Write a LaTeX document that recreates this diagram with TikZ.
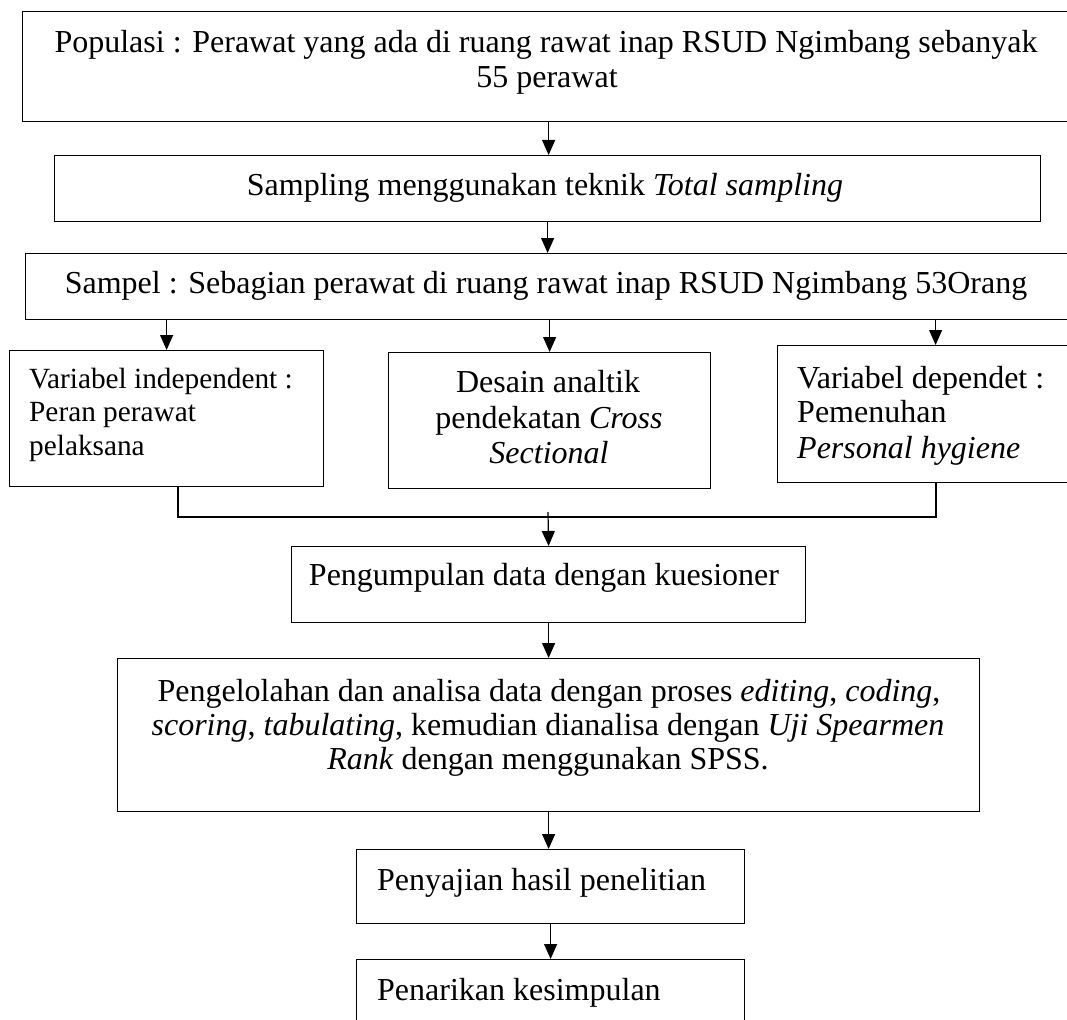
\documentclass[tikz,border=0pt]{standalone}
\usepackage{fontspec}
\setmainfont{Liberation Serif}
\usetikzlibrary{arrows.meta}
\begin{document}
\begin{tikzpicture}[x=1pt,y=-1pt,
  box/.style={draw, line width=1.2pt, rectangle, inner sep=0pt, anchor=north west},
  txt/.style={inner sep=0pt, anchor=base, font=\fontsize{32}{35}\selectfont},
  txtl/.style={txt, anchor=base west},
  txts/.style={txtl, font=\fontsize{29.3}{33}\selectfont},
  arr/.style={line width=1.2pt, -{Triangle[length=15pt,width=13pt]}},
  ln/.style={line width=1.2pt}]
\useasboundingbox (0,0) rectangle (1067,1019);
% boxes
\node[box, minimum width=1052pt, minimum height=110pt] (pop) at (22,11) {};
\node[box, minimum width=986pt, minimum height=66pt] (samp) at (54,155) {};
\node[box, minimum width=1046pt, minimum height=66pt] (sampel) at (25,253) {};
\node[box, minimum width=314pt, minimum height=136pt] (left) at (9,350) {};
\node[box, minimum width=322pt, minimum height=136pt] (mid) at (388,352) {};
\node[box, minimum width=316pt, minimum height=137pt] (right) at (777,345) {};
\node[box, minimum width=514pt, minimum height=76pt] (kump) at (291,546) {};
\node[box, minimum width=862pt, minimum height=153pt] (olah) at (117,658) {};
\node[box, minimum width=388pt, minimum height=74pt] (saji) at (356,849) {};
\node[box, minimum width=388pt, minimum height=100pt] (tarik) at (356,959) {};
% texts
\node[txt] (t1a) at (546,53) {Populasi : Perawat yang ada di ruang rawat inap RSUD Ngimbang sebanyak};
\node[txt] (t1b) at (547,88) {55 perawat};
\node[txt] (t2) at (545,195) {Sampling menggunakan teknik \textit{Total sampling}};
\node[txt] (t3) at (546,293) {Sampel : Sebagian perawat di ruang rawat inap RSUD Ngimbang 53Orang};
\node[txts] (t4a) at (29,388) {Variabel independent :};
\node[txts] (t4b) at (29,421) {Peran perawat};
\node[txts] (t4c) at (29,455) {pelaksana};
\node[txt] (t5a) at (548,392) {Desain analtik};
\node[txt] (t5b) at (549,428) {pendekatan \textit{Cross}};
\node[txt] (t5c) at (549,463) {\textit{Sectional}};
\node[txtl] (t6a) at (797,388) {Variabel dependet :};
\node[txtl] (t6b) at (797,422) {Pemenuhan};
\node[txtl] (t6c) at (797,458) {\textit{Personal hygiene}};
\node[txt] (t7) at (544,585) {Pengumpulan data dengan kuesioner};
\node[txt] (t8a) at (549,701) {Pengelolahan dan analisa data dengan proses \textit{editing}, \textit{coding},};
\node[txt] (t8b) at (548,735) {\textit{scoring}, \textit{tabulating}, kemudian dianalisa dengan \textit{Uji Spearmen}};
\node[txt] (t8c) at (548,769) {\textit{Rank} dengan menggunakan SPSS.};
\node[txtl] (t9) at (377,890) {Penyajian hasil penelitian};
\node[txtl] (t10) at (377,1000) {Penarikan kesimpulan};
% connectors
\draw[arr] (pop.south) -- (samp.north -| pop.south);
\draw[arr] (samp.south) -- (sampel.north -| samp.south);
\draw[arr] (sampel.south -| left.north) -- (left.north);
\draw[arr] (sampel.south -| mid.north) -- (mid.north);
\draw[arr] (sampel.south -| right.north) -- (right.north);
\coordinate (jl) at (178,517);
\coordinate (jr) at (936,517);
\coordinate (jm) at (548,512);
\draw[ln] (left.south -| jl) -- (jl) -- (jr) -- (right.south -| jr);
\draw[arr] (jm) -- (kump.north);
\draw[arr] (kump.south) -- (olah.north -| kump.south);
\draw[arr] (olah.south) -- (saji.north -| olah.south);
\draw[arr] (saji.south) -- (tarik.north);
\end{tikzpicture}
\end{document}
